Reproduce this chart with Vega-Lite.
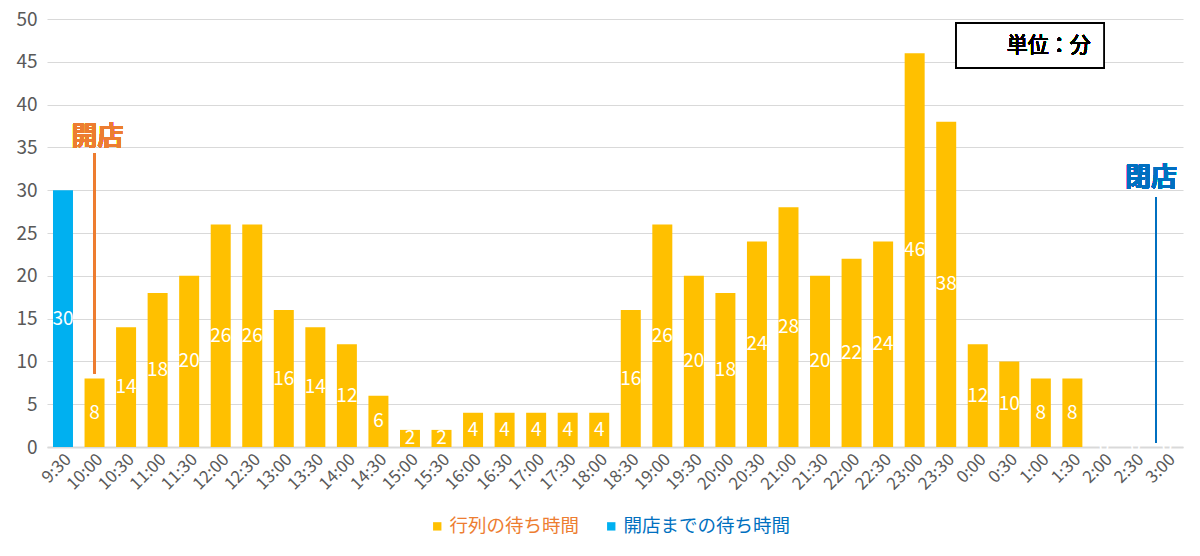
{
  "$schema": "https://vega.github.io/schema/vega-lite/v6.json",
  "width": 1136,
  "height": 428,
  "autosize": "none",
  "padding": {"left": 47, "top": 19, "right": 17, "bottom": 109},
  "background": "white",
  "config": {
    "view": {"stroke": null},
    "font": "Noto Sans CJK JP",
    "axis": {"labelFont": "Noto Sans CJK JP", "labelColor": "#595959"},
    "legend": {"labelFont": "Noto Sans CJK JP"}
  },
  "data": {
    "values": [
      {"time": "9:30", "wait": 30, "kind": "開店までの待ち時間"},
      {"time": "10:00", "wait": 8, "kind": "行列の待ち時間"},
      {"time": "10:30", "wait": 14, "kind": "行列の待ち時間"},
      {"time": "11:00", "wait": 18, "kind": "行列の待ち時間"},
      {"time": "11:30", "wait": 20, "kind": "行列の待ち時間"},
      {"time": "12:00", "wait": 26, "kind": "行列の待ち時間"},
      {"time": "12:30", "wait": 26, "kind": "行列の待ち時間"},
      {"time": "13:00", "wait": 16, "kind": "行列の待ち時間"},
      {"time": "13:30", "wait": 14, "kind": "行列の待ち時間"},
      {"time": "14:00", "wait": 12, "kind": "行列の待ち時間"},
      {"time": "14:30", "wait": 6, "kind": "行列の待ち時間"},
      {"time": "15:00", "wait": 2, "kind": "行列の待ち時間"},
      {"time": "15:30", "wait": 2, "kind": "行列の待ち時間"},
      {"time": "16:00", "wait": 4, "kind": "行列の待ち時間"},
      {"time": "16:30", "wait": 4, "kind": "行列の待ち時間"},
      {"time": "17:00", "wait": 4, "kind": "行列の待ち時間"},
      {"time": "17:30", "wait": 4, "kind": "行列の待ち時間"},
      {"time": "18:00", "wait": 4, "kind": "行列の待ち時間"},
      {"time": "18:30", "wait": 16, "kind": "行列の待ち時間"},
      {"time": "19:00", "wait": 26, "kind": "行列の待ち時間"},
      {"time": "19:30", "wait": 20, "kind": "行列の待ち時間"},
      {"time": "20:00", "wait": 18, "kind": "行列の待ち時間"},
      {"time": "20:30", "wait": 24, "kind": "行列の待ち時間"},
      {"time": "21:00", "wait": 28, "kind": "行列の待ち時間"},
      {"time": "21:30", "wait": 20, "kind": "行列の待ち時間"},
      {"time": "22:00", "wait": 22, "kind": "行列の待ち時間"},
      {"time": "22:30", "wait": 24, "kind": "行列の待ち時間"},
      {"time": "23:00", "wait": 46, "kind": "行列の待ち時間"},
      {"time": "23:30", "wait": 38, "kind": "行列の待ち時間"},
      {"time": "0:00", "wait": 12, "kind": "行列の待ち時間"},
      {"time": "0:30", "wait": 10, "kind": "行列の待ち時間"},
      {"time": "1:00", "wait": 8, "kind": "行列の待ち時間"},
      {"time": "1:30", "wait": 8, "kind": "行列の待ち時間"},
      {"time": "2:00", "wait": 0, "kind": "行列の待ち時間"},
      {"time": "2:30", "wait": 0, "kind": "行列の待ち時間"},
      {"time": "3:00", "wait": 0, "kind": "行列の待ち時間"}
    ]
  },
  "encoding": {
    "x": {
      "field": "time",
      "type": "nominal",
      "sort": null,
      "scale": {"paddingInner": 0.366, "paddingOuter": 0.19},
      "axis": {
        "title": null,
        "labelAngle": -45,
        "labelFontSize": 17,
        "labelPadding": 4,
        "ticks": false,
        "domainColor": "#D9D9D9",
        "domainWidth": 2
      }
    }
  },
  "layer": [
    {
      "layer": [
        {
          "mark": {"type": "bar"},
          "encoding": {
            "y": {
              "field": "wait",
              "type": "quantitative",
              "scale": {"domain": [0, 50]},
              "axis": {
                "title": null,
                "values": [0, 5, 10, 15, 20, 25, 30, 35, 40, 45, 50],
                "labelFontSize": 19,
                "labelPadding": 10,
                "ticks": false,
                "domain": false,
                "gridColor": "#D9D9D9",
                "gridWidth": 1
              }
            },
            "color": {
              "field": "kind",
              "type": "nominal",
              "scale": {
                "domain": ["行列の待ち時間", "開店までの待ち時間"],
                "range": ["#FFC000", "#00B0F0"]
              },
              "legend": {
                "title": null,
                "orient": "none",
                "legendX": 381,
                "legendY": 498,
                "direction": "horizontal",
                "symbolType": "square",
                "symbolSize": 70,
                "symbolStrokeWidth": 0,
                "labelFontSize": 18.5,
                "labelLimit": 400,
                "labelOffset": 3,
                "columnPadding": 22,
                "encode": {
                  "labels": {
                    "update": {
                      "fill": {"signal": "datum.value === '行列の待ち時間' ? '#ED7D31' : '#0070C0'"}
                    }
                  }
                }
              }
            }
          }
        },
        {
          "mark": {"type": "rule", "color": "#ED7D31", "strokeWidth": 1.5},
          "encoding": {
            "x": {"datum": "10:00"},
            "y": {"datum": 8.6},
            "y2": {"datum": 34.3}
          }
        },
        {
          "mark": {"type": "text", "text": "開店", "color": "#ED7D31", "fontSize": 26, "fontWeight": "bold", "baseline": "middle", "dx": 3},
          "encoding": {
            "x": {"datum": "10:00"},
            "y": {"datum": 36.2}
          }
        },
        {
          "mark": {"type": "rule", "color": "#0070C0", "strokeWidth": 1.5, "xOffset": -11},
          "encoding": {
            "x": {"datum": "3:00"},
            "y": {"datum": 0.5},
            "y2": {"datum": 29.2}
          }
        },
        {
          "mark": {"type": "text", "text": "閉店", "color": "#0070C0", "fontSize": 26, "fontWeight": "bold", "baseline": "middle", "dx": -16},
          "encoding": {
            "x": {"datum": "3:00"},
            "y": {"datum": 31.4}
          }
        },
        {
          "mark": {"type": "rect", "fill": "white", "stroke": "black", "strokeWidth": 1.5},
          "encoding": {
            "x": {"datum": "23:30", "bandPosition": 1},
            "x2": {"datum": "2:00"},
            "y": {"datum": 49.5},
            "y2": {"datum": 44.3}
          }
        },
        {
          "mark": {"type": "text", "text": "単位：分", "color": "black", "fontSize": 21, "fontWeight": "normal", "baseline": "middle", "dx": 8},
          "encoding": {
            "x": {"datum": "1:00"},
            "y": {"datum": 46.9}
          }
        }
      ]
    },
    {
      "mark": {"type": "text", "color": "white", "fontSize": 19, "baseline": "middle", "align": "center"},
      "encoding": {
        "y": {"field": "wait", "type": "quantitative", "scale": {"domain": [0, 100]}, "axis": null},
        "text": {"field": "wait", "type": "quantitative"}
      }
    }
  ],
  "resolve": {"scale": {"y": "independent"}}
}
